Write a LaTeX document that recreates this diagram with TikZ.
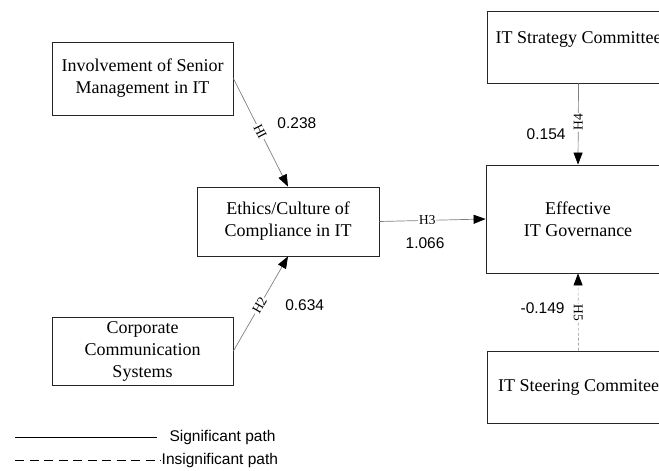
\documentclass[tikz,border=0pt]{standalone}
\usepackage{fontspec}
\setmainfont{Liberation Serif}
\newfontfamily\arialfont{Liberation Sans}
\usetikzlibrary{arrows.meta}

\tikzset{
  construct/.style={draw=black!85, line width=0.8pt, align=center, inner sep=0pt,
    font=\fontsize{18}{22}\selectfont},
  sigpath/.style={draw=black!50, line width=0.7pt, -{Triangle[length=12pt,width=9pt,black]}},
  insigpath/.style={sigpath, draw=black!35, dash pattern=on 3pt off 2pt},
  hyp/.style={sloped, fill=white, inner sep=1pt, font=\fontsize{13.5}{15}\selectfont},
  coef/.style={font=\arialfont\fontsize{15.5}{18}\selectfont},
  legtext/.style={anchor=west, font=\arialfont\fontsize{15.5}{18}\selectfont},
}

\begin{document}
\begin{tikzpicture}[x=1pt, y=-1pt]
  \useasboundingbox (0,0) rectangle (659,471);
  \clip (0,0) rectangle (659,471);

  % constructs
  \node[construct, minimum width=181pt, minimum height=73pt] (inv) at (142.5,78.5) {Involvement of Senior\\Management in IT};
  \node[construct, minimum width=182pt, minimum height=69pt] (eth) at (288,221.5) {Ethics/Culture of\\Compliance in IT};
  \node[construct, minimum width=181pt, minimum height=68pt] (comm) at (142.5,351) {Corporate\\Communication\\Systems};
  \node[construct, minimum width=183pt, minimum height=72pt, text height=12pt, text depth=20pt] (strat) at (578.5,47) {IT Strategy Committee};
  \node[construct, minimum width=184pt, minimum height=108pt] (gov) at (578,219) {Effective\\IT Governance};
  \node[construct, minimum width=183pt, minimum height=72pt] (steer) at (578.5,387) {IT Steering Commitee};

  % paths
  \draw[sigpath] (inv.east) -- node[hyp, pos=0.49] {HI} node[coef, pos=0.41, right=18pt] {0.238} (eth.north);
  \draw[sigpath] (comm.east) -- node[hyp, pos=0.48] {H2} node[coef, pos=0.48, right=22pt] {0.634} (eth.south);
  \draw[sigpath] (eth.east) -- node[hyp, pos=0.45] {H3} node[coef, pos=0.43, below=14pt] {1.066} (gov.west);
  \draw[sigpath] (strat.south) -- node[hyp, pos=0.48] {H4} node[coef, pos=0.62, left=9pt] {0.154} (gov.north);
  \draw[insigpath] (steer.north) -- node[hyp, pos=0.49] {H5} node[coef, pos=0.55, left=10pt] {-0.149} (gov.south);

  % legend
  \coordinate (sig0) at (15,437);
  \node[legtext] (sigtext) at (166,437) {Significant path};
  \draw[line width=0.9pt, shorten >=9pt] (sig0) -- (sigtext.west);
  \coordinate (insig0) at (15,460);
  \node[legtext, inner xsep=0.5pt] (insigtext) at (161,460) {Insignificant path};
  \draw[line width=0.9pt, dash pattern=on 9pt off 5.5pt] (insig0) -- (insigtext.west);
\end{tikzpicture}
\end{document}
